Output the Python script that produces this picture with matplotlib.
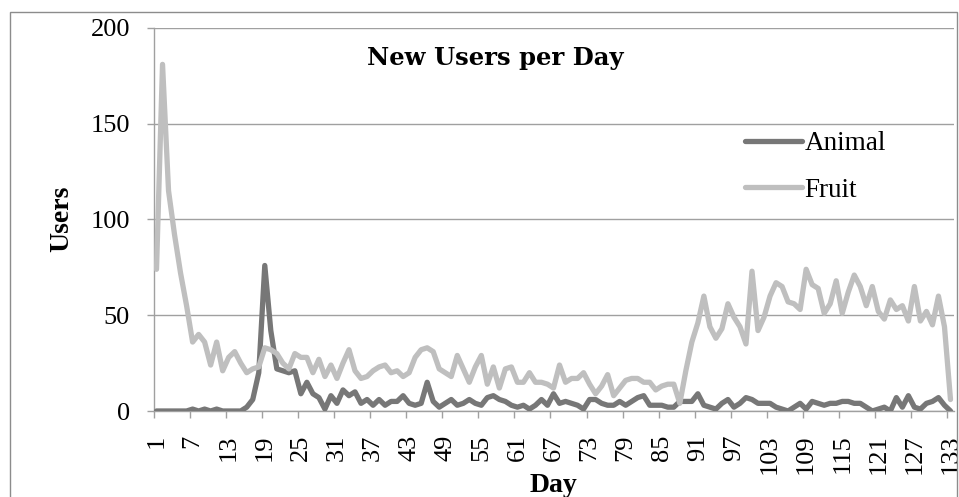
import matplotlib.pyplot as plt
import matplotlib.patches as patches
import numpy as np


days = np.arange(1, 134)

animal = [0, 0, 0, 0, 0, 0, 1, 0, 1, 0, 1, 0, 0, 0, 0,
          2, 6, 20, 76, 42, 22, 21, 20, 21, 9, 15, 9, 7, 1, 8,
          4, 11, 8, 10, 4, 6, 3, 6, 3, 5, 5, 8, 4, 3, 4,
          15, 5, 2, 4, 6, 3, 4, 6, 4, 3, 7, 8, 6, 5, 3,
          2, 3, 1, 3, 6, 3, 9, 4, 5, 4, 3, 1, 6, 6, 4,
          3, 3, 5, 3, 5, 7, 8, 3, 3, 3, 2, 2, 5, 5, 5,
          9, 3, 2, 1, 4, 6, 2, 4, 7, 6, 4, 4, 4, 2, 1,
          0, 2, 4, 1, 5, 4, 3, 4, 4, 5, 5, 4, 4, 2, 0,
          1, 2, 0, 7, 2, 8, 2, 1, 4, 5, 7, 3, 0]

fruit = [74, 181, 115, 92, 72, 55, 36, 40, 36, 24, 36, 21, 28, 31, 25,
         20, 22, 23, 33, 32, 30, 25, 22, 30, 28, 28, 20, 27, 18, 24,
         17, 25, 32, 21, 17, 18, 21, 23, 24, 20, 21, 18, 20, 28, 32,
         33, 31, 22, 20, 18, 29, 22, 15, 23, 29, 14, 23, 12, 22, 23,
         15, 15, 20, 15, 15, 14, 12, 24, 15, 17, 17, 20, 14, 9, 13,
         19, 8, 12, 16, 17, 17, 15, 15, 11, 13, 14, 14, 4, 21, 36,
         46, 60, 44, 38, 43, 56, 49, 44, 35, 73, 42, 49, 60, 67, 65,
         57, 56, 53, 74, 66, 64, 51, 56, 68, 51, 62, 71, 65, 55, 65,
         52, 48, 58, 53, 55, 47, 65, 47, 52, 45, 60, 44, 6]

label_days = list(range(1, 134, 6))
y_ticks = [0, 50, 100, 150, 200]

W, H = 959, 497
fig = plt.figure(figsize=(W / 100, H / 100), dpi=100)
ax = fig.add_axes([153.5 / W, 1 - 411 / H, 800 / W, 383 / H])

grey = '#a0a0a0'
serif = 'Liberation Serif'

ax.plot(days, animal, color='#777777', lw=3.8, solid_joinstyle='round',
        solid_capstyle='round', label='Animal', zorder=3)
ax.plot(days, fruit, color='#bfbfbf', lw=3.8, solid_joinstyle='round',
        solid_capstyle='round', label='Fruit', zorder=4)

ax.set_xlim(0.5, 133.5)
ax.set_ylim(0, 200)
ax.set_yticks(y_ticks)
ax.set_xticks(label_days)
ax.set_xticks(np.arange(0.5, 133, 6), minor=True)
ax.set_xticklabels([str(d) for d in label_days], rotation=90,
                   fontfamily=serif, fontsize=19)
ax.set_yticklabels([str(v) for v in y_ticks], fontfamily=serif, fontsize=19)
ax.tick_params(axis='x', which='major', length=0, pad=17)
ax.tick_params(axis='x', which='minor', length=5, width=1, color=grey)
ax.tick_params(axis='y', length=5, width=1, color=grey, pad=12)

ax.grid(axis='y', color=grey, lw=1)
ax.set_axisbelow(True)
for s in ['top', 'right']:
    ax.spines[s].set_visible(False)
for s in ['left', 'bottom']:
    ax.spines[s].set_color(grey)
    ax.spines[s].set_linewidth(1)

fig.text(495 / W, 1 - 58 / H, 'New Users per Day', ha='center', va='center',
         fontfamily='DejaVu Serif', fontweight='bold', fontsize=17.5)
fig.text(62 / W, 1 - 219 / H, 'Users', rotation=90, ha='center', va='center',
         fontfamily=serif, fontweight='bold', fontsize=20)
fig.text(553 / W, 1 - 486 / H, 'Day', ha='center', va='center',
         fontfamily=serif, fontweight='bold', fontsize=20)

fig.legend(loc='upper left', bbox_to_anchor=(745 / W, 1 - 131 / H),
           frameon=False, prop={'family': serif, 'size': 19.5},
           handlelength=2.1, handletextpad=0.1, labelspacing=0.8,
           borderpad=0, borderaxespad=0)

fig.add_artist(patches.Rectangle((10 / W, -0.01), 947 / W, 1 - 12 / H + 0.01,
                                 transform=fig.transFigure, fill=False,
                                 edgecolor='#8c8c8c', lw=1))

fig.savefig('out.png', dpi=100)
